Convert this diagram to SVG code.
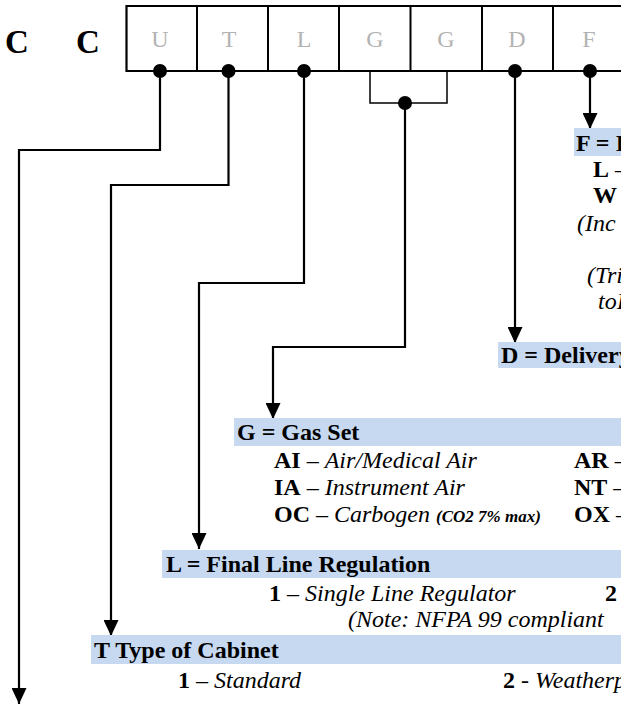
<svg xmlns="http://www.w3.org/2000/svg" width="621" height="704" viewBox="0 0 621 704" font-family="'Liberation Serif', 'DejaVu Serif', serif">
<defs>
<style>
text{font-family:'Liberation Serif','DejaVu Serif',serif;font-size:24px;fill:#000}
.b{font-weight:bold}
.i{font-style:italic}
.cell{fill:#b3b3b3;text-anchor:middle}
.hl{fill:#c6d9f1}
.wire{fill:none;stroke:#000;stroke-width:2.2}
.br{fill:none;stroke:#000;stroke-width:1.5}
.sm{font-size:17px;font-weight:bold;font-style:italic}
</style>
<marker id="ah" markerUnits="userSpaceOnUse" markerWidth="16" markerHeight="15" viewBox="0 0 16 15" refX="16" refY="7.5" orient="auto">
<path d="M0,0 L16,7.5 L0,15 z" fill="#000"/>
</marker>
</defs>
<g id="prefix">
<text class="b" x="5" y="53" style="font-size:33px">C</text>
<text class="b" x="76" y="53" style="font-size:33px">C</text>
</g>
<g id="code-boxes">
<path d="M640,6 H126.5 V71 H640" fill="none" stroke="#000" stroke-width="2.2"/>
<path d="M197,6 V71 M268,6 V71 M339,6 V71 M410.5,6 V71 M482,6 V71 M553,6 V71" stroke="#000" stroke-width="2"/>
<text class="cell" x="160" y="47">U</text>
<text class="cell" x="229" y="47">T</text>
<text class="cell" x="304" y="47">L</text>
<text class="cell" x="375" y="47">G</text>
<text class="cell" x="446" y="47">G</text>
<text class="cell" x="517" y="47">D</text>
<text class="cell" x="589" y="47">F</text>
</g>
<g id="connectors">
<path class="br" d="M370,71 V103 H447 V71"/>
<path class="wire" d="M160,71 V150 H19 V704" marker-end="url(#ah)"/>
<path class="wire" d="M228.5,71 V185 H111 V636" marker-end="url(#ah)"/>
<path class="wire" d="M304,71 V283 H199 V549" marker-end="url(#ah)"/>
<path class="wire" d="M405,103 V347 H273 V419" marker-end="url(#ah)"/>
<path class="wire" d="M515,71 V343" marker-end="url(#ah)"/>
<path class="wire" d="M590,71 V129" marker-end="url(#ah)"/>
<circle cx="160" cy="71" r="7"/>
<circle cx="228.5" cy="71" r="7"/>
<circle cx="304" cy="71" r="7"/>
<circle cx="405" cy="103" r="7"/>
<circle cx="515" cy="71" r="7"/>
<circle cx="590" cy="71" r="7"/>
</g>
<g id="node-F">
<rect class="hl" x="574" y="128" width="47" height="28"/>
<text class="b" x="576" y="151">F = I</text>
<text x="593" y="177"><tspan class="b">L</tspan> –</text>
<text class="b" x="593" y="203">W</text>
<text class="i" x="577" y="231">(Inc</text>
<text class="i" x="587" y="283">(Tri</text>
<text class="i" x="598" y="309">toI</text>
</g>
<g id="node-D">
<rect class="hl" x="498" y="342" width="123" height="26"/>
<text class="b" x="501" y="363">D = Delivery</text>
</g>
<g id="node-G">
<rect class="hl" x="234" y="418" width="387" height="28"/>
<text class="b" x="237" y="440">G = Gas Set</text>
<text x="274" y="468"><tspan class="b">AI</tspan> – <tspan class="i">Air/Medical Air</tspan></text>
<text x="274" y="495"><tspan class="b">IA</tspan> – <tspan class="i">Instrument Air</tspan></text>
<text x="274" y="522"><tspan class="b">OC</tspan> – <tspan class="i">Carbogen </tspan><tspan class="sm">(CO2 7% max)</tspan></text>
<text x="574" y="468"><tspan class="b">AR</tspan> –</text>
<text x="574" y="495"><tspan class="b">NT</tspan> –</text>
<text x="574" y="522"><tspan class="b">OX</tspan> –</text>
</g>
<g id="node-L">
<rect class="hl" x="162" y="550" width="459" height="28"/>
<text class="b" x="166" y="572">L = Final Line Regulation</text>
<text x="269" y="601"><tspan class="b">1</tspan> – <tspan class="i">Single Line Regulator</tspan></text>
<text class="b" x="605" y="601">2</text>
<text class="i" x="348" y="627">(Note: NFPA 99 compliant</text>
</g>
<g id="node-T">
<rect class="hl" x="91" y="635" width="530" height="29"/>
<text class="b" x="94" y="658">T Type of Cabinet</text>
<text x="178" y="688"><tspan class="b">1</tspan> – <tspan class="i">Standard</tspan></text>
<text x="503" y="688"><tspan class="b">2</tspan> - <tspan class="i">Weatherp</tspan></text>
</g>
</svg>
